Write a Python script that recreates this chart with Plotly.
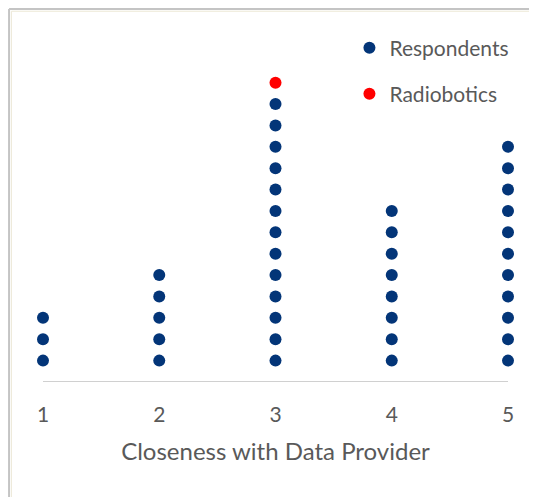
import plotly.graph_objects as go

categories = [1, 2, 3, 4, 5]
respondents = [3, 5, 13, 8, 11]
radiobotics_category = 3
radiobotics_level = 14

# expand counts into stacked dots
rx, ry = [], []
for c, n in zip(categories, respondents):
    for k in range(1, n + 1):
        rx.append(c)
        ry.append(k)

fig = go.Figure()
fig.add_trace(go.Scatter(x=rx, y=ry, mode='markers', name='Respondents',
                         marker=dict(color='#033578', size=12), cliponaxis=False,
                         legend='legend'))
fig.add_trace(go.Scatter(x=[radiobotics_category], y=[radiobotics_level], mode='markers',
                         name='Radiobotics', marker=dict(color='#ff0000', size=12),
                         cliponaxis=False, legend='legend2'))

grey = '#595959'
fig.update_layout(
    width=529, height=489,
    margin=dict(l=35, r=29, t=64, b=115, autoexpand=False),
    plot_bgcolor='white', paper_bgcolor='white',
    font=dict(family='Lato, Open Sans, sans-serif', color=grey),
    showlegend=True,
    xaxis=dict(range=[1, 5], tickvals=categories, showgrid=False, zeroline=False,
               showline=False, ticks='', tickfont=dict(size=21, color=grey),
               ticklabelstandoff=18, automargin=False,
               title=dict(text='Closeness with Data Provider', font=dict(size=24, color=grey),
                          standoff=18)),
    yaxis=dict(range=[0, 14.5], visible=False),
    legend=dict(x=0.659, y=1.077, xanchor='left', yanchor='middle', bgcolor='rgba(0,0,0,0)',
                font=dict(size=21, color=grey), itemwidth=30),
    legend2=dict(x=0.659, y=0.929, xanchor='left', yanchor='middle', bgcolor='rgba(0,0,0,0)',
                 font=dict(size=21, color=grey), itemwidth=30),
    shapes=[
        dict(type='line', xref='x', yref='y', x0=1, x1=5, y0=0, y1=0,
             line=dict(color='#d0d0d0', width=2)),
        # chart frame (outer grey, inner beige)
        dict(type='line', xref='paper', yref='paper', x0=-0.073, x1=1.2, y0=1.203, y1=1.203,
             line=dict(color='#c4c4c4', width=2)),
        dict(type='line', xref='paper', yref='paper', x0=-0.073, x1=-0.073, y0=1.203, y1=-0.5,
             line=dict(color='#c4c4c4', width=2)),
        dict(type='line', xref='paper', yref='paper', x0=-0.068, x1=1.2, y0=1.196, y1=1.196,
             line=dict(color='#ece8d6', width=1)),
        dict(type='line', xref='paper', yref='paper', x0=-0.068, x1=-0.068, y0=1.196, y1=-0.5,
             line=dict(color='#ece8d6', width=1)),
    ],
)

fig.write_html("out.html")
